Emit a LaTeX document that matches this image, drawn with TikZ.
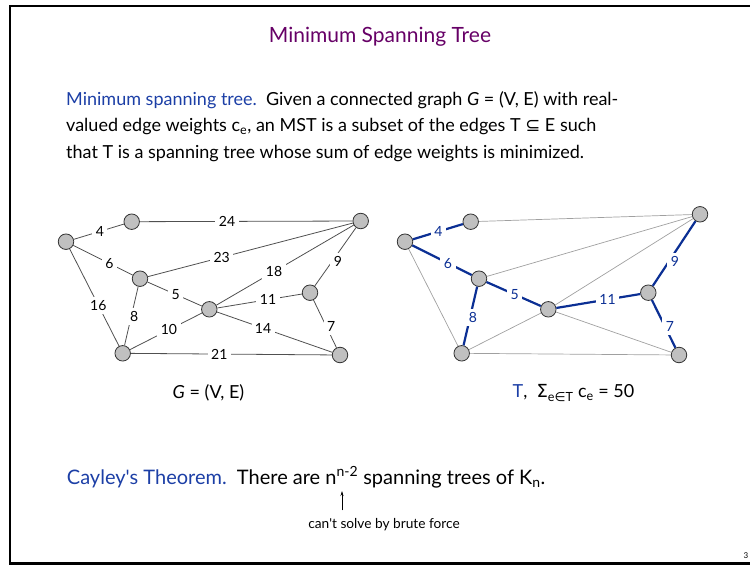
\documentclass[tikz,border=0pt]{standalone}
\usepackage{fontspec}
\setmainfont{Lato}
\newfontfamily\symfont{DejaVu Sans}
\usetikzlibrary{arrows.meta, positioning}
\usepackage{xcolor}
\definecolor{Title}{HTML}{660066}
\definecolor{Head}{HTML}{1C3FA6}
\definecolor{TreeEdge}{HTML}{0B2F94}
\definecolor{Faint}{HTML}{A0A0A0}
\definecolor{Edge}{HTML}{505050}
\definecolor{Vertex}{HTML}{C0C0C0}

\begin{document}
\begin{tikzpicture}[
        x=1pt, y=-1pt,
        vertex/.style={circle, draw=black!80, fill=Vertex, line width=0.8pt, minimum size=15.5pt, inner sep=0pt},
        edge/.style={draw=Edge, line width=0.8pt},
        faint/.style={draw=Faint, line width=0.7pt},
        tree/.style={draw=TreeEdge, line width=2.2pt},
        weight/.style={fill=white, inner sep=3.5pt, font=\fontsize{14}{14}\selectfont},
        treeweight/.style={weight, text=TreeEdge},
        body/.style={font=\fontsize{18}{26.5}\selectfont, align=left, inner sep=0pt},
        arrow/.style={-{Stealth[length=5pt, width=3pt]}, line width=0.6pt}
    ]
    \useasboundingbox (0,0) rectangle (750,565);
    \draw[line width=2.5pt] (750,6) -- (10,6) -- (10,563.5) -- (750,563.5);

    \node[font=\fontsize{21}{21}\selectfont, text=Title] (title) at (380,37) {Minimum Spanning Tree};

    \node[body, anchor=north west] (def) at (66,91) {\textcolor{Head}{Minimum spanning tree.}\ \ Given a connected graph \textit{G} = (V, E) with real-\\
        valued edge weights c\textsubscript{e}, an MST is a subset of the edges T {\symfont ⊆} E such\\
        that T is a spanning tree whose sum of edge weights is minimized.};

    % graph G
    \node[vertex] (gA) at (66,241.7) {};
    \node[vertex] (gB) at (131.7,221.7) {};
    \node[vertex] (gC) at (360.7,221) {};
    \node[vertex] (gD) at (140,278.7) {};
    \node[vertex] (gE) at (209.3,309.3) {};
    \node[vertex] (gF) at (310,292.7) {};
    \node[vertex] (gG) at (122.7,353.3) {};
    \node[vertex] (gH) at (340,355) {};

    \draw[edge] (gA) -- node[weight, pos=0.52] {4} (gB);
    \draw[edge] (gB) -- node[weight, pos=0.41] {24} (gC);
    \draw[edge] (gA) -- node[weight, pos=0.61] {6} (gD);
    \draw[edge] (gD) -- node[weight, pos=0.36] {23} (gC);
    \draw[edge] (gE) -- node[weight, pos=0.42] {18} (gC);
    \draw[edge] (gF) -- node[weight, pos=0.42, xshift=6] {9} (gC);
    \draw[edge] (gD) -- node[weight, pos=0.52] {5} (gE);
    \draw[edge] (gE) -- node[weight, pos=0.60] {11} (gF);
    \draw[edge] (gA) -- node[weight, pos=0.58] {16} (gG);
    \draw[edge] (gD) -- node[weight, pos=0.51, xshift=3] {8} (gG);
    \draw[edge] (gG) -- node[weight, pos=0.54] {10} (gE);
    \draw[edge] (gE) -- node[weight, pos=0.40] {14} (gH);
    \draw[edge] (gG) -- node[weight, pos=0.44] {21} (gH);
    \draw[edge] (gF) -- node[weight, pos=0.55, xshift=5] {7} (gH);

    \node[body] (gcap) at (208.5,393) {\textit{G} = (V, E)};

    % tree T
    \node[vertex] (tA) at (405,241.7) {};
    \node[vertex] (tB) at (470.7,221.7) {};
    \node[vertex] (tC) at (700,214.3) {};
    \node[vertex] (tD) at (479,278.7) {};
    \node[vertex] (tE) at (548.3,309.3) {};
    \node[vertex] (tF) at (648.3,292.7) {};
    \node[vertex] (tG) at (461.7,353.3) {};
    \node[vertex] (tH) at (679,355) {};

    \draw[faint] (tB) -- (tC);
    \draw[faint] (tD) -- (tC);
    \draw[faint] (tE) -- (tC);
    \draw[faint] (tA) -- (tG);
    \draw[faint] (tG) -- (tE);
    \draw[faint] (tE) -- (tH);
    \draw[faint] (tG) -- (tH);
    \draw[tree] (tA) -- node[treeweight, pos=0.51] {4} (tB);
    \draw[tree] (tA) -- node[treeweight, pos=0.60] {6} (tD);
    \draw[tree] (tD) -- node[treeweight, pos=0.52] {5} (tE);
    \draw[tree] (tD) -- node[treeweight, pos=0.53, xshift=3] {8} (tG);
    \draw[tree] (tE) -- node[treeweight, pos=0.61] {11} (tF);
    \draw[tree] (tF) -- node[treeweight, pos=0.38, xshift=6] {9} (tC);
    \draw[tree] (tF) -- node[treeweight, pos=0.55, xshift=5] {7} (tH);

    \node[body] (tcap) at (573.5,393) {\textcolor{Head}{T},\ \ {\symfont Σ}\textsubscript{e{\symfont ∈}T} c\textsubscript{e} = 50};

    \node[body, font=\fontsize{20}{20}\selectfont, anchor=base west] (cayley) at (66.7,484) {\textcolor{Head}{Cayley\textquotesingle s Theorem.}\ \ There are n\textsuperscript{n-2} spanning trees of K\textsubscript{n}.};
    \node[font=\fontsize{13.7}{13.7}\selectfont] (brute) at (384,525) {can\textquotesingle t solve by brute force};
    \coordinate (nexp) at (342,491);
    \draw[arrow, shorten <=5pt] (nexp |- brute.north) -- (nexp);

    \node[font=\fontsize{8}{8}\selectfont] (page) at (746,556) {3};
\end{tikzpicture}
\end{document}
